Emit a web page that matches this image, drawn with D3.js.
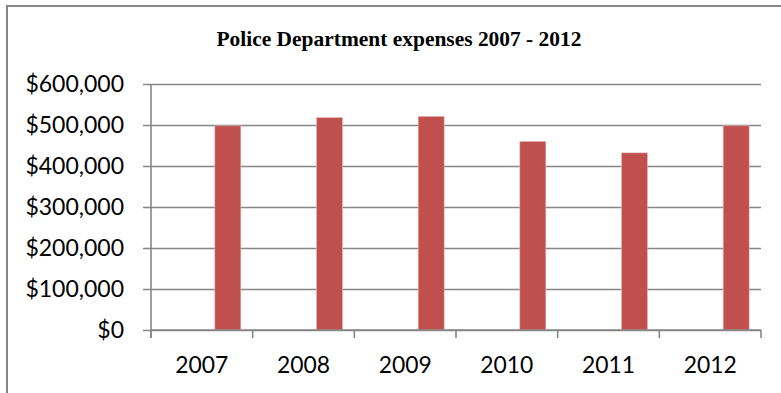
<!DOCTYPE html>
<html>
<head>
<meta charset="utf-8">
<script src="https://cdn.jsdelivr.net/npm/d3@7"></script>
<style>
  html, body { margin: 0; padding: 0; background: #fff; }
  svg { display: block; }
</style>
</head>
<body>
<svg id="chart" width="781" height="393"></svg>
<script>
// Annual police department expenses
const years = ["2007", "2008", "2009", "2010", "2011", "2012"];
const expenses = [498000, 518000, 521000, 460000, 432000, 498000];
const yTicks = [0, 100000, 200000, 300000, 400000, 500000, 600000];
// three series slots per year; only the last one carries values
const seriesSlots = ["slot1", "slot2", "expenses"];

const svg = d3.select("#chart");
const W = 781, H = 393;
const plot = { left: 151, right: 761, top: 84, bottom: 330 };
const gridColor = "#868686";
const barColor = "#C0504D";

// chart frame
svg.append("line").attr("x1", 7).attr("x2", W).attr("y1", 6).attr("y2", 6)
  .attr("stroke", gridColor).attr("stroke-width", 2);
svg.append("line").attr("x1", 7).attr("x2", 7).attr("y1", 5).attr("y2", H)
  .attr("stroke", gridColor).attr("stroke-width", 2);

// title
svg.append("text")
  .attr("x", 399).attr("y", 46)
  .attr("text-anchor", "middle")
  .attr("font-family", "'Liberation Serif', 'Times New Roman', serif")
  .attr("font-weight", "bold")
  .attr("font-size", 21)
  .attr("textLength", 365).attr("lengthAdjust", "spacingAndGlyphs")
  .attr("fill", "#000")
  .text("Police Department expenses 2007 - 2012");

const x = d3.scaleBand().domain(years).range([plot.left, plot.right]).padding(0);
const xSub = d3.scaleBand().domain(seriesSlots).range([0, x.bandwidth()])
  .paddingInner(0).paddingOuter(0.455);
const y = d3.scaleLinear().domain([0, 600000]).range([plot.bottom, plot.top]);

const fmt = v => "$" + d3.format(",")(v);

// horizontal gridlines and y axis
const yAxis = d3.axisLeft(y).tickValues(yTicks).tickFormat(fmt)
  .tickSize(-(plot.right - plot.left)).tickPadding(27);
const yg = svg.append("g").attr("transform", `translate(${plot.left},0)`).call(yAxis);
yg.select(".domain").remove();
yg.selectAll(".tick line").attr("stroke", gridColor).attr("stroke-width", 1.6)
  .attr("x1", -8);
yg.selectAll(".tick text")
  .attr("font-family", "Lato, 'Open Sans', sans-serif")
  .attr("font-size", 23).attr("fill", "#000")
  .attr("dy", "0.34em");

// bars
svg.append("g").selectAll("rect")
  .data(years.map((yr, i) => ({ year: yr, value: expenses[i] })))
  .join("rect")
  .attr("x", d => x(d.year) + xSub("expenses"))
  .attr("width", xSub.bandwidth())
  .attr("y", d => y(d.value))
  .attr("height", d => y(0) - y(d.value))
  .attr("fill", barColor)
  .attr("stroke", "#e8b9b8").attr("stroke-width", 0.6);

// vertical axis line
svg.append("line").attr("x1", plot.left).attr("x2", plot.left)
  .attr("y1", plot.top).attr("y2", plot.bottom + 8)
  .attr("stroke", gridColor).attr("stroke-width", 1.6);

// x axis with ticks at category boundaries
const xg = svg.append("g").attr("transform", `translate(0,${plot.bottom})`);
xg.append("line").attr("x1", plot.left).attr("x2", plot.right)
  .attr("stroke", gridColor).attr("stroke-width", 1.6);
const bounds = years.map(yr => x(yr)).concat([plot.right]);
xg.selectAll("line.tick").data(bounds).join("line").attr("class", "tick")
  .attr("x1", d => d).attr("x2", d => d).attr("y1", 0).attr("y2", 8)
  .attr("stroke", gridColor).attr("stroke-width", 1.6);
xg.selectAll("text").data(years).join("text")
  .attr("x", d => x(d) + x.bandwidth() / 2)
  .attr("y", 43)
  .attr("text-anchor", "middle")
  .attr("font-family", "Lato, 'Open Sans', sans-serif")
  .attr("font-size", 24)
  .attr("textLength", 53).attr("lengthAdjust", "spacingAndGlyphs")
  .attr("fill", "#000")
  .text(d => d);
</script>
</body>
</html>
